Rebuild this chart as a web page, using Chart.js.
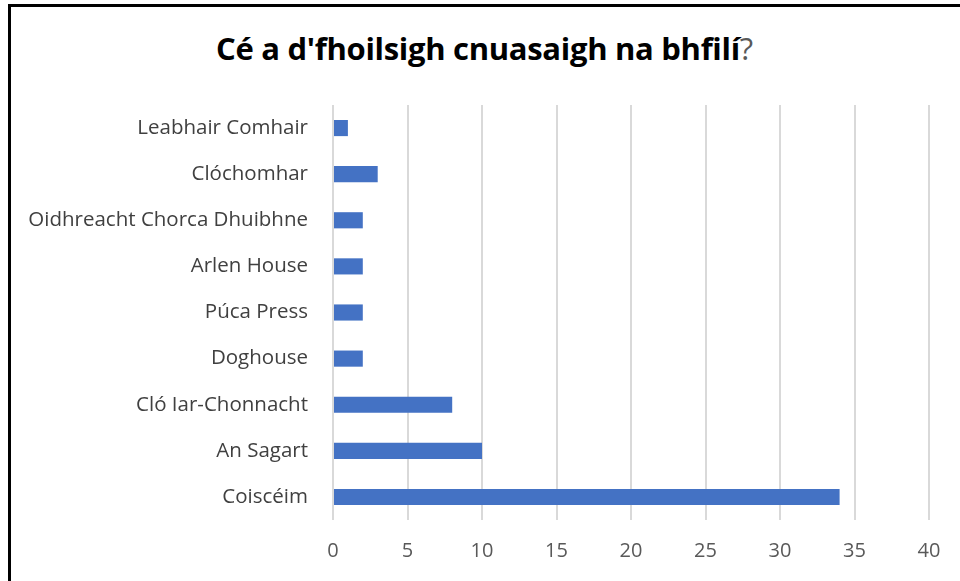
<!DOCTYPE html>
<html>
<head>
<meta charset="utf-8">
<script src="https://cdn.jsdelivr.net/npm/chart.js@4"></script>
<style>
  html, body { margin: 0; padding: 0; background: #fff; overflow: hidden; }
  #wrap { position: relative; width: 960px; height: 581px; }
  #frame {
    position: absolute; left: 8px; top: 4px; width: 990px; height: 620px;
    border-left: 3px solid #000; border-top: 3px solid #000; box-sizing: border-box;
  }
  #title {
    position: absolute; left: 0; top: 27px; width: 969px; text-align: center;
    font-family: "Open Sans", sans-serif; font-size: 31px; color: #000;
    letter-spacing: -0.3px;
  }
  #title b { font-weight: bold; }
  #title span { color: #595959; font-weight: normal; }
  canvas { position: absolute; left: 0; top: 0; }
</style>
</head>
<body>
<div id="wrap">
  <div id="frame"></div>
  <div id="title"><b>Cé a d'fhoilsigh cnuasaigh na bhfilí</b><span>?</span></div>
  <canvas id="chart" width="960" height="581"></canvas>
</div>
<script>
  var publishers = [
    'Leabhair Comhair',
    'Clóchomhar',
    'Oidhreacht Chorca Dhuibhne',
    'Arlen House',
    'Púca Press',
    'Doghouse',
    'Cló Iar-Chonnacht',
    'An Sagart',
    'Coiscéim'
  ];
  var counts = [1, 3, 2, 2, 2, 2, 8, 10, 34];
  var xMin = 0;
  var xMax = 40;
  var xStep = 5;

  var ctx = document.getElementById('chart');
  new Chart(ctx, {
    type: 'bar',
    data: {
      labels: publishers,
      datasets: [
        {
          label: 'Líon',
          data: counts,
          backgroundColor: '#4472c4',
          borderWidth: 0,
          categoryPercentage: 0.7,
          barPercentage: 0.5
        }
      ]
    },
    options: {
      indexAxis: 'y',
      responsive: false,
      animation: false,
      layout: { padding: { left: 10, right: 31, top: 105, bottom: 20 } },
      plugins: { legend: { display: false }, tooltip: { enabled: false } },
      scales: {
        x: {
          min: xMin,
          max: xMax,
          grid: { color: '#d9d9d9', lineWidth: 2, drawTicks: false },
          border: { display: false },
          ticks: {
            stepSize: xStep,
            padding: 19,
            color: '#595959',
            font: { family: 'Open Sans', size: 20 }
          },
          afterFit: function (s) { s.height = 41; }
        },
        y: {
          grid: { display: false, drawTicks: false },
          border: { display: false },
          ticks: {
            padding: 25,
            color: '#404040',
            font: { family: 'Open Sans', size: 20.5 }
          },
          afterFit: function (s) { s.width = 323; }
        }
      }
    }
  });
</script>
</body>
</html>
